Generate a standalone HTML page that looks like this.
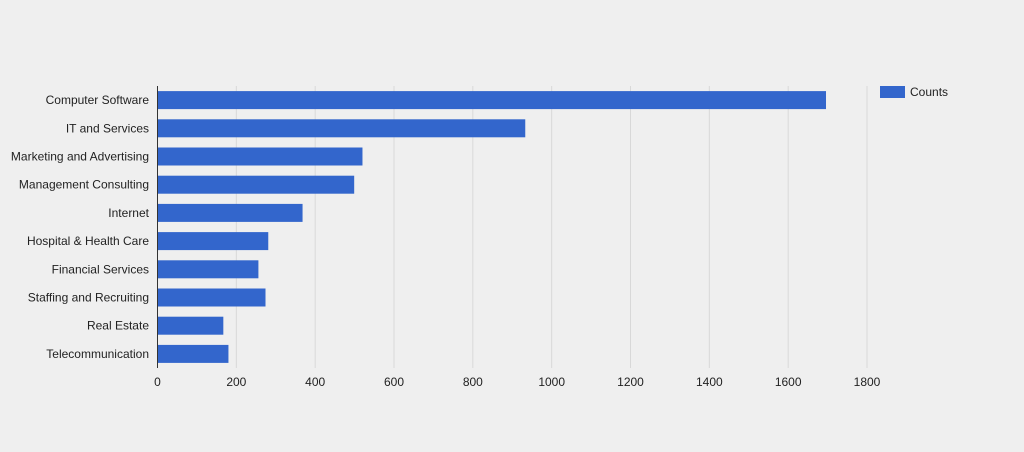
<!DOCTYPE html>
<html><head><meta charset="utf-8"><style>
body{margin:0;background:#efefef;width:1024px;height:452px;overflow:hidden;font-family:"Liberation Sans",Arial,sans-serif}
</style></head><body>
<svg id="chart" width="1024" height="452" style="position:absolute;left:0;top:0">
<rect width="1024" height="452" fill="#efefef"/>
<g id="grid"></g><g id="bars"></g><g id="labels"></g>
<line x1="157.5" y1="86" x2="157.5" y2="368" stroke="#333" stroke-width="1"/>
<g>
<rect x="880" y="86" width="25" height="12" fill="#3366cc"/>
<text x="910" y="96" font-size="12" fill="#222">Counts</text>
</g>
</svg>
<script>
const categories=["Computer Software","IT and Services","Marketing and Advertising","Management Consulting","Internet","Hospital & Health Care","Financial Services","Staffing and Recruiting","Real Estate","Telecommunication"];
const counts=[1696,933,520,499,368,281,256,274,167,180];
const ticks=[0,200,400,600,800,1000,1200,1400,1600,1800];
const NS="http://www.w3.org/2000/svg";
const x0=157.5,xScale=(867-157.5)/1800,top0=86,band=28.2,barH=18;
const X=v=>x0+v*xScale;
const Y=i=>top0+i*band+(band-barH)/2;
const grid=document.getElementById('grid'),bars=document.getElementById('bars'),labels=document.getElementById('labels');
ticks.forEach(t=>{
 if(t>0){const l=document.createElementNS(NS,'line');
 l.setAttribute('x1',X(t));l.setAttribute('x2',X(t));l.setAttribute('y1',86);l.setAttribute('y2',368);
 l.setAttribute('stroke','#d8d8d8');
 
 
 grid.appendChild(l);}
 const tx=document.createElementNS(NS,'text');
 tx.setAttribute('x',X(t));tx.setAttribute('y',386);tx.setAttribute('text-anchor','middle');
 tx.setAttribute('font-size','12');tx.setAttribute('fill','#222');tx.textContent=t;
 
 
 labels.appendChild(tx);
});
categories.forEach((c,i)=>{
 const r=document.createElementNS(NS,'rect');
 r.setAttribute('x',x0);r.setAttribute('y',Y(i));r.setAttribute('width',X(counts[i])-x0);r.setAttribute('height',barH);
 r.setAttribute('fill','#3366cc');
 
 
 bars.appendChild(r);
 const tx=document.createElementNS(NS,'text');
 tx.setAttribute('x',149);tx.setAttribute('y',Y(i)+barH/2+4);tx.setAttribute('text-anchor','end');
 tx.setAttribute('font-size','12');tx.setAttribute('fill','#222');tx.textContent=c;
 
 
 labels.appendChild(tx);
});
</script>
</body></html>
